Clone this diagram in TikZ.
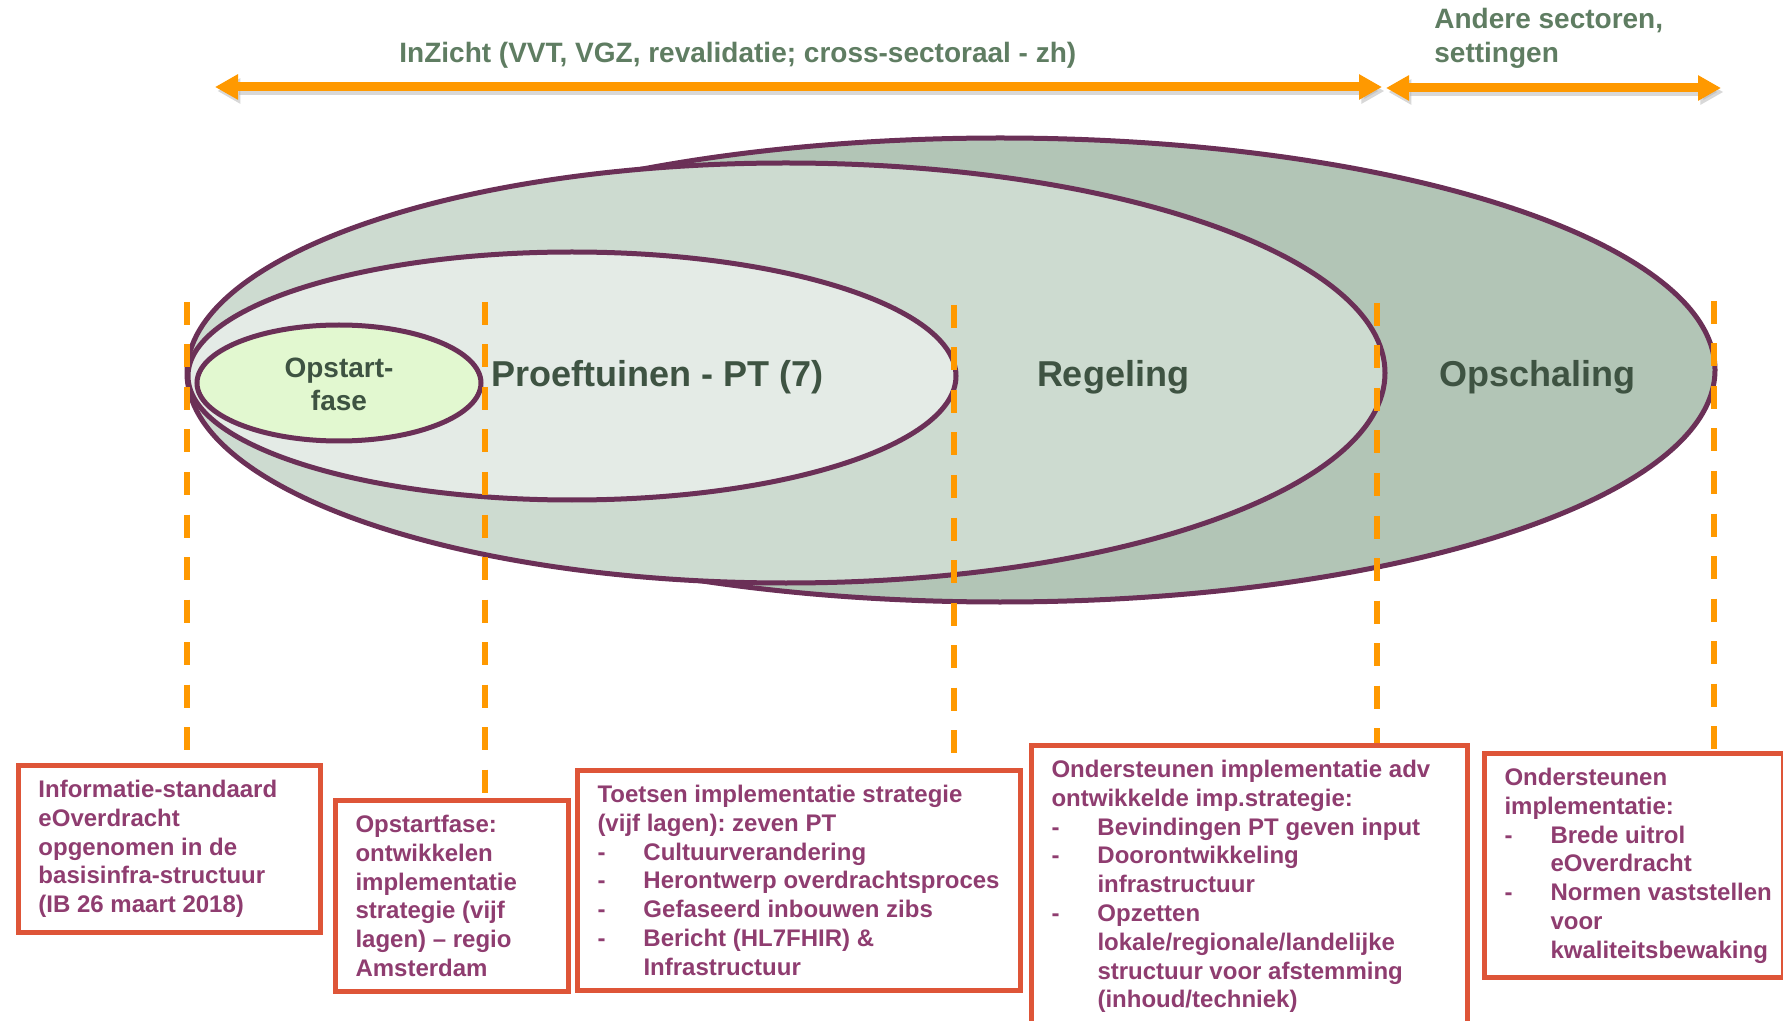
\documentclass[tikz,border=0pt]{standalone}
\usepackage{fontspec}
\setmainfont{Liberation Sans}
\usepackage{xcolor}
\usetikzlibrary{arrows.meta,positioning,calc}

\definecolor{oranje}{HTML}{FF9900}
\definecolor{rand}{HTML}{DE5538}
\definecolor{paars}{HTML}{8F3D70}
\definecolor{ovrand}{HTML}{6B3057}
\definecolor{vulA}{HTML}{B2C5B6}
\definecolor{vulB}{HTML}{CDDBD0}
\definecolor{vulC}{HTML}{E4EBE6}
\definecolor{vulD}{HTML}{E2F8D0}
\definecolor{donkergroen}{HTML}{3E5342}
\definecolor{grijsgroen}{HTML}{5F7D62}

\newcommand{\dashitem}[1]{\makebox[23pt][l]{-}\mbox{#1}}
\newcommand{\dashcont}[1]{\hspace*{23pt}\mbox{#1}}
\newcommand{\geenafbreking}{\frenchspacing\hyphenpenalty=10000 \exhyphenpenalty=10000 }

\begin{document}
\begin{tikzpicture}[x=0.5pt,y=-0.5pt, % pixels van het origineel
	ovaal/.style={draw=ovrand,line width=2.5pt},
	fase/.style={text=donkergroen,inner sep=0pt,font=\fontsize{18}{21}\selectfont\bfseries},
	kop/.style={text=grijsgroen,inner sep=0pt,font=\fontsize{14}{17}\selectfont\bfseries},
	pijl/.style={oranje,line width=4.5pt,{Triangle[length=11.5pt,width=12pt]}-{Triangle[length=11.5pt,width=12pt]}},
	streep/.style={oranje,line width=3pt,dash pattern=on 11.5pt off 9.75pt},
	kader/.style={draw=rand,line width=2.5pt,anchor=north west,inner xsep=10pt,inner ysep=7.3pt,
		align=flush left,text=paars,font=\fontsize{12}{14.4}\selectfont\bfseries,
		execute at begin node=\geenafbreking}]
	%\draw[help lines] (0,0) grid[step=100] (1783,1021);
	\path[fill=white] (0,0) rectangle (1783,1021);
	\useasboundingbox (0,0) rectangle (1783,1021);

	% pijlen boven
	\coordinate (pijlA1) at (215,87);
	\coordinate (pijlA2) at (1382,87);
	\coordinate (pijlB1) at (1386,88);
	\coordinate (pijlB2) at (1721,88);
	\draw[pijl,black!30,opacity=0.5,transform canvas={shift={(1.2pt,-2pt)}}] (pijlA1) -- (pijlA2);
	\draw[pijl,black!30,opacity=0.5,transform canvas={shift={(1.2pt,-2pt)}}] (pijlB1) -- (pijlB2);
	\draw[pijl] (pijlA1) -- (pijlA2);
	\draw[pijl] (pijlB1) -- (pijlB2);
	\node[kop,anchor=base west] (inzicht) at (399,63) {InZicht (VVT, VGZ, revalidatie; cross-sectoraal - zh)};
	\node[kop,anchor=north west,align=left] (andere) at (1434,8) {Andere sectoren,\\settingen};

	% ellipsen
	\draw[ovaal,fill=vulA] (1000,370) ellipse [x radius=715,y radius=232];
	\draw[ovaal,fill=vulB] (786,373) ellipse [x radius=599,y radius=210];
	\draw[ovaal,fill=vulC] (572,376) ellipse [x radius=384,y radius=124];
	\draw[ovaal,fill=vulD] (339,383) ellipse [x radius=142,y radius=58];

	\node[fase,font=\fontsize{14}{16.5}\selectfont\bfseries,align=center] (opstart) at (339,384) {Opstart-\\fase};
	\node[fase,anchor=base west] (proef) at (491,387) {Proeftuinen - PT (7)};
	\node[fase,anchor=base] (regeling) at (1113,387) {Regeling};
	\node[fase,anchor=base] (opschaling) at (1537,387) {Opschaling};

	% kaders onder
	\node[kader,text width=131pt] (kader1) at (16,763) {Informatie-standaard\\eOverdracht\\opgenomen in de\\basisinfra-structuur\\(IB 26 maart 2018)};
	\node[kader,text width=96.5pt] (kader2) at (333,798) {Opstartfase:\\ontwikkelen\\implementatie\\strategie (vijf\\lagen) -- regio\\Amsterdam};
	\node[kader,text width=201.5pt] (kader3) at (575,768) {Toetsen implementatie strategie\\(vijf lagen): zeven PT\\
		\dashitem{Cultuurverandering}\\\dashitem{Herontwerp overdrachtsproces}\\\dashitem{Gefaseerd inbouwen zibs}\\
		\dashitem{Bericht (HL7FHIR) \&}\\\dashcont{Infrastructuur}};
	\node[kader,text width=198pt] (kader4) at (1029,743) {Ondersteunen implementatie adv\\ontwikkelde imp.strategie:\\
		\dashitem{Bevindingen PT geven input}\\\dashitem{Doorontwikkeling}\\\dashcont{infrastructuur}\\
		\dashitem{Opzetten}\\\dashcont{lokale/regionale/landelijke}\\\dashcont{structuur voor afstemming}\\\dashcont{(inhoud/techniek)}};
	\node[kader,text width=129.5pt] (kader5) at (1482,751) {Ondersteunen\\implementatie:\\
		\dashitem{Brede uitrol}\\\dashcont{eOverdracht}\\\dashitem{Normen vaststellen}\\\dashcont{voor}\\\dashcont{kwaliteitsbewaking}};

	% stippellijnen
	\coordinate (lijn1) at (187,302);
	\coordinate (lijn2) at (485,302);
	\coordinate (lijn3) at (954,305);
	\coordinate (lijn4) at (1377,303);
	\coordinate (lijn5) at (1714,301);
	\draw[streep] (lijn1) -- (lijn1 |- kader1.north);
	\draw[streep] (lijn2) -- (lijn2 |- kader2.north);
	\draw[streep] (lijn3) -- (lijn3 |- kader3.north);
	\draw[streep] (lijn4) -- (lijn4 |- kader4.north);
	\draw[streep] (lijn5) -- (lijn5 |- kader5.north);
\end{tikzpicture}
\end{document}
